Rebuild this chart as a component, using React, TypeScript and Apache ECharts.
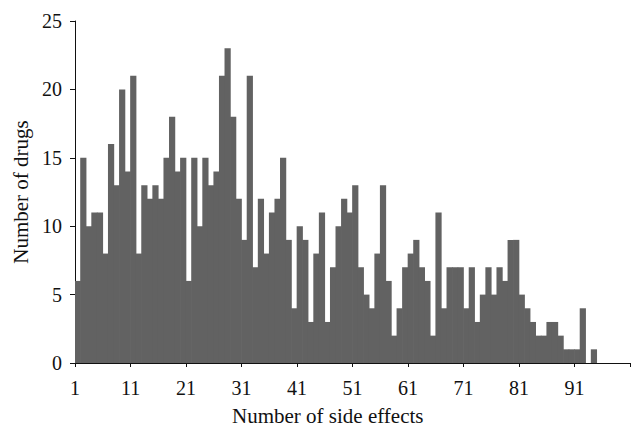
import React, { useEffect, useRef } from "react";
import * as echarts from "echarts";

const categories: string[] = Array.from({ length: 100 }, (_, i) => String(i + 1));
const drugCounts: number[] = [
  6, 15, 10, 11, 11, 8, 16, 13, 20, 14,
  21, 8, 13, 12, 13, 12, 15, 18, 14, 15,
  6, 15, 10, 15, 13, 14, 21, 23, 18, 12,
  9, 21, 7, 12, 8, 11, 12, 15, 9, 4,
  10, 9, 3, 8, 11, 3, 7, 10, 12, 11,
  13, 7, 5, 4, 8, 13, 6, 2, 4, 7,
  8, 9, 7, 6, 2, 11, 4, 7, 7, 7,
  4, 7, 3, 5, 7, 5, 7, 6, 9, 9,
  5, 4, 3, 2, 2, 3, 3, 2, 1, 1,
  1, 4, 0, 1, 0, 0, 0, 0, 0, 0,
];
const yTitle = "Number of drugs";
const xTitle = "Number of side effects";

const FONT = "'Liberation Serif', 'Times New Roman', serif";
const BAR = "#626262";

export default function App() {
  const ref = useRef<HTMLDivElement>(null);
  useEffect(() => {
    document.body.style.margin = "0";
    if (!ref.current) return;
    const chart = echarts.init(ref.current, null, { renderer: "svg" });
    chart.setOption({
      animation: false,
      backgroundColor: "#ffffff",
      grid: { left: 75, right: 1, top: 21, bottom: 67, containLabel: false, outerBoundsMode: "none" },
      xAxis: [
        {
          type: "category",
          data: categories,
          boundaryGap: true,
          axisLine: { show: false },
          axisTick: { show: false },
          axisLabel: { show: false },
          splitLine: { show: false },
        },
        {
          type: "value",
          position: "bottom",
          min: 0,
          max: 100,
          interval: 10,
          splitLine: { show: false },
          axisLine: { show: true, onZero: false, lineStyle: { color: "#111", width: 1 } },
          axisTick: { show: true, length: 4, lineStyle: { color: "#111" } },
          axisLabel: {
            margin: 15,
            fontFamily: FONT,
            fontSize: 20,
            color: "#111",
            formatter: (v: number) => (v >= 100 ? "" : String(v + 1)),
          },
        },
      ],
      yAxis: {
        type: "value",
        min: 0,
        max: 25,
        interval: 5,
        splitLine: { show: false },
        axisLine: { show: true, lineStyle: { color: "#111", width: 1 } },
        axisTick: { show: true, length: 5, lineStyle: { color: "#111" } },
        axisLabel: { margin: 13, fontFamily: FONT, fontSize: 20, color: "#111" },
        name: yTitle,
        nameLocation: "middle",
        nameGap: 42,
        nameTextStyle: { fontFamily: FONT, fontSize: 21, color: "#111" },
      },
      graphic: [
        {
          type: "text",
          x: 232,
          y: 416,
          style: {
            text: xTitle,
            fontFamily: FONT,
            fontSize: 21,
            fill: "#111",
            align: "left",
            verticalAlign: "middle",
          },
        },
      ],
      series: [
        {
          type: "bar",
          xAxisIndex: 0,
          data: drugCounts,
          barWidth: "112%",
          barGap: "0%",
          itemStyle: { color: BAR, borderWidth: 0 },
        },
      ],
    });
    return () => chart.dispose();
  }, []);
  return <div ref={ref} style={{ width: 631, height: 430 }} />;
}
